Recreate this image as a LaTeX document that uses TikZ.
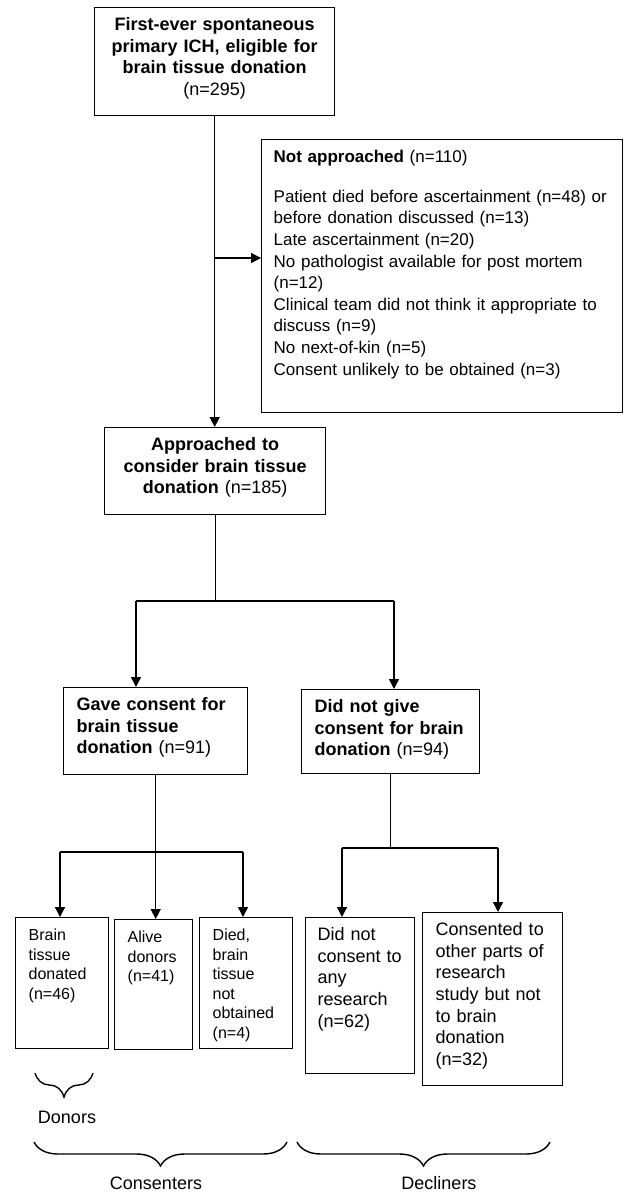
\documentclass[tikz,border=0pt]{standalone}
\usepackage{fontspec}
\setmainfont{Liberation Sans}
\usetikzlibrary{arrows.meta,decorations.pathreplacing}

\begin{document}
\begin{tikzpicture}[x=1pt,y=-1pt,
  box/.style={draw,line width=1.4pt,anchor=north west,inner xsep=13pt,inner ysep=8pt,text height=15pt,align=left,font=\fontsize{18}{21.6}\selectfont},
  cbox/.style={box,inner xsep=6pt,align=center},
  small/.style={box,font=\fontsize{16}{19.5}\selectfont},
  lbl/.style={font=\fontsize{18}{21.6}\selectfont},
  link/.style={line width=1.4pt},
  arr/.style={line width=1.4pt,-{Triangle[length=10pt,width=10pt]}},
  brc/.style={line width=1.4pt,decorate,decoration={brace,mirror,amplitude=24pt}}]
\useasboundingbox (0,0) rectangle (626,1192);

\node (first)[cbox,text width=228pt,text depth=77pt] at (94,7) {\textbf{First-ever spontaneous}\\\textbf{primary ICH, eligible for}\\\textbf{brain tissue donation}\\(n=295)};
\node (notappr)[box,inner xsep=12pt,text width=337pt,text depth=242pt,font=\fontsize{17}{21.6}\selectfont] at (261,139) {\textbf{Not approached} (n=110)\\[18pt]\mbox{Patient died before ascertainment (n=48) or}\\before donation discussed (n=13)\\Late ascertainment (n=20)\\No pathologist available for post mortem\\(n=12)\\\mbox{Clinical team did not think it appropriate to}\\discuss (n=9)\\No next-of-kin (n=5)\\Consent unlikely to be obtained (n=3)};
\node (appr)[cbox,text width=209pt,text depth=56pt] at (104,427) {\textbf{Approached to}\\\textbf{consider brain tissue}\\\textbf{donation} (n=185)};
\node (gave)[box,text width=158pt,text depth=56pt] at (63,687) {\textbf{Gave consent for}\\\textbf{brain tissue}\\\textbf{donation} (n=91)};
\node (notgave)[box,text width=152pt,text depth=53pt] at (301,689) {\textbf{Did not give}\\\textbf{consent for brain}\\\textbf{donation} (n=94)};
\node (donated)[small,text width=67pt,text depth=100pt] at (15,917) {Brain\\tissue\\donated\\(n=46)};
\node (alive)[small,text width=52pt,text depth=99pt] at (114,919) {Alive\\donors\\(n=41)};
\node (died)[small,text width=67pt,text depth=100pt] at (199,917) {Died,\\brain\\tissue\\not\\obtained\\(n=4)};
\node (noresearch)[box,inner xsep=12pt,text width=85pt,text depth=125pt] at (305,917) {Did not\\consent to\\any\\research\\(n=62)};
\node (otherparts)[box,text width=114pt,text depth=142pt] at (422,912) {Consented to\\other parts of\\research\\study but not\\to brain\\donation\\(n=32)};

\coordinate (tee) at (214,258);
\draw[arr] (first.south) -- (first.south |- appr.north);
\draw[arr] (tee) -- (tee -| notappr.west);

\coordinate (s1l) at (136,601);
\coordinate (s1r) at (394,601);
\draw[link] (appr.south) -- (appr.south |- s1l);
\draw[link] (s1l) -- (s1r);
\foreach \c/\to in {s1l/gave,s1r/notgave}
\draw[arr] (\c) -- (\c |- \to.north);

\coordinate (s2l) at (60,852);
\coordinate (s2r) at (243,852);
\draw[arr] (gave.south) -- (gave.south |- alive.north);
\draw[link] (s2l) -- (s2r);
\foreach \c/\to in {s2l/donated,s2r/died}
\draw[arr] (\c) -- (\c |- \to.north);

\coordinate (s3l) at (342,848);
\coordinate (s3r) at (498,848);
\draw[link] (notgave.south) -- (notgave.south |- s3l);
\draw[link] (s3l) -- (s3r);
\foreach \c/\to in {s3l/noresearch,s3r/otherparts}
\draw[arr] (\c) -- (\c |- \to.north);

% groups
\draw[brc] (35,1073) -- (93,1073);
\draw[brc] (34,1142) -- (287,1142);
\draw[brc] (297,1142) -- (550,1142);
\node (donors)[lbl] at (67,1117) {Donors};
\node (consenters)[lbl] at (156,1183) {Consenters};
\node (decliners)[lbl] at (439,1183) {Decliners};
\end{tikzpicture}
\end{document}
